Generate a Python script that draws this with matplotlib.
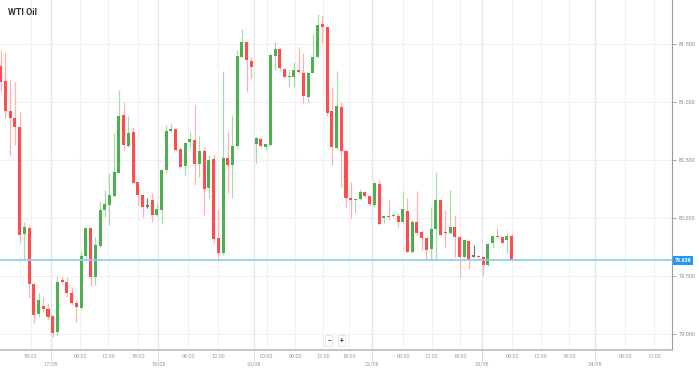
import matplotlib
matplotlib.use("Agg")
import matplotlib.pyplot as plt
import matplotlib.transforms as mtransforms
import numpy as np

# hourly WTI candles (oldest first)
opens = [81.310, 81.184, 80.925, 80.859, 80.787, 79.862, 79.911, 79.431, 79.170, 79.241,
         79.213, 79.155, 79.020, 79.466, 79.451, 79.356, 79.270, 79.222, 79.672, 79.911,
         79.489, 79.759, 80.069, 80.112, 80.192, 80.391, 80.885, 80.621, 80.744, 80.310,
         80.198, 80.097, 80.155, 80.023, 80.069, 80.414, 80.750, 80.765, 80.592, 80.448,
         80.655, 80.672, 80.463, 80.578, 80.256, 80.506, 79.830, 79.696, 80.515, 80.454,
         80.621, 81.391, 81.515, 81.356, 80.638, 80.684, 80.615, 80.629, 81.399, 81.454,
         81.282, 81.213, 81.213, 81.276, 81.253, 81.041, 81.253, 81.385, 81.670, 81.644,
         80.925, 80.601, 80.954, 80.580, 80.170, 80.155, 80.161, 80.222, 80.190, 80.112,
         80.291, 79.997, 80.020, 80.017, 80.017, 79.968, 80.063, 79.709, 79.963, 79.882,
         79.830, 79.730, 79.903, 80.155, 79.877, 79.868, 79.920, 79.839, 79.661, 79.804,
         79.666, 79.672, 79.666, 79.595, 79.782, 79.845, 79.834, 79.810, 79.845]
highs = [81.448, 81.434, 81.190, 81.175, 80.916, 79.968, 79.940, 79.431, 79.351, 79.322,
         79.270, 79.164, 79.500, 79.494, 79.494, 79.408, 79.293, 79.718, 79.925, 79.925,
         79.839, 80.149, 80.241, 80.385, 80.730, 81.103, 81.003, 80.879, 80.787, 80.310,
         80.207, 80.170, 80.213, 80.132, 80.420, 80.802, 80.815, 80.767, 80.601, 80.658,
         80.753, 80.974, 80.707, 80.615, 80.543, 80.552, 80.078, 81.270, 80.753, 80.888,
         81.448, 81.627, 81.520, 81.391, 80.701, 80.687, 80.640, 81.414, 81.520, 81.463,
         81.291, 81.276, 81.347, 81.477, 81.420, 81.261, 81.586, 81.759, 81.741, 81.649,
         81.127, 81.267, 81.003, 80.586, 80.313, 80.170, 80.247, 80.235, 80.198, 80.304,
         80.328, 80.026, 80.155, 80.054, 80.041, 80.235, 80.170, 79.983, 80.235, 79.897,
         79.834, 80.097, 80.399, 80.161, 80.069, 80.241, 80.026, 79.845, 79.816, 79.810,
         79.767, 79.681, 79.672, 79.787, 79.853, 79.925, 79.845, 79.868, 79.862]
lows = [81.086, 80.859, 80.534, 80.629, 79.782, 79.638, 79.308, 79.092, 79.149, 79.192,
        79.121, 78.977, 78.991, 79.430, 79.322, 79.247, 79.106, 79.213, 79.638, 79.414,
        79.422, 79.747, 80.011, 79.940, 80.184, 80.385, 80.586, 80.615, 80.299, 80.112,
        80.011, 80.084, 79.968, 80.017, 79.948, 80.385, 80.744, 80.580, 80.437, 80.371,
        80.601, 80.284, 80.356, 80.026, 80.170, 79.782, 79.632, 79.681, 80.213, 80.170,
        80.592, 81.385, 81.089, 81.204, 80.477, 80.609, 80.595, 80.621, 81.276, 81.270,
        81.204, 81.127, 81.132, 81.247, 80.994, 80.994, 81.247, 81.377, 81.506, 80.879,
        80.457, 80.592, 80.270, 80.092, 79.997, 80.041, 80.155, 80.178, 80.103, 80.097,
        79.940, 79.954, 79.983, 80.011, 79.925, 79.954, 79.696, 79.696, 79.853, 79.724,
        79.638, 79.638, 79.638, 79.845, 79.739, 79.859, 79.666, 79.489, 79.653, 79.558,
        79.661, 79.653, 79.509, 79.586, 79.739, 79.825, 79.782, 79.696, 79.632]
closes = [81.172, 80.925, 80.859, 80.787, 79.853, 79.920, 79.431, 79.164, 79.293, 79.218,
          79.144, 79.011, 79.451, 79.451, 79.351, 79.265, 79.230, 79.672, 79.911, 79.494,
          79.767, 80.069, 80.121, 80.198, 80.399, 80.879, 80.629, 80.735, 80.304, 80.196,
          80.092, 80.097, 80.026, 80.075, 80.414, 80.753, 80.770, 80.586, 80.442, 80.649,
          80.678, 80.466, 80.578, 80.250, 80.500, 79.816, 79.696, 80.515, 80.454, 80.621,
          81.397, 81.517, 81.362, 81.304, 80.692, 80.621, 80.635, 81.405, 81.457, 81.291,
          81.218, 81.227, 81.276, 81.259, 81.052, 81.247, 81.391, 81.664, 81.649, 80.908,
          80.609, 80.966, 80.580, 80.170, 80.155, 80.166, 80.227, 80.190, 80.118, 80.299,
          79.948, 80.017, 80.009, 80.028, 79.966, 80.075, 79.709, 79.968, 79.873, 79.825,
          79.724, 79.903, 80.155, 79.853, 79.868, 79.925, 79.834, 79.661, 79.810, 79.644,
          79.666, 79.661, 79.595, 79.776, 79.845, 79.834, 79.787, 79.845, 79.638]

last_price = 79.636
price_ticks = [79.0, 79.5, 80.0, 80.5, 81.0, 81.5]

time_labels = ["18:00", "06:00", "12:00", "18:00", "06:00", "12:00", "00:00", "06:00",
               "12:00", "18:00", "06:00", "12:00", "18:00", "06:00", "12:00", "18:00",
               "06:00", "12:00"]
time_pos = [6.34, 16.77, 22.75, 29.09, 39.66, 46.0, 56.24, 62.22, 68.2, 73.64,
            85.12, 91.12, 97.1, 108.16, 114.16, 120.21, 132.05, 138.18]
day_labels = ["17/08", "18/08", "20/08", "22/08", "23/08", "24/08"]
day_pos = [10.53, 33.36, 53.55, 78.5, 101.69, 125.64]

UP, DOWN, FLAT = "#4caf50", "#ff4d4d", "#777777"
UP_W, DOWN_W = "#a9dca9", "#ffb0b0"

plt.rcParams["font.family"] = ["Roboto", "DejaVu Sans"]
fig = plt.figure(figsize=(6.99, 3.69), dpi=100)
ax = fig.add_axes([0, 19 / 369, 672 / 699, 350 / 369])

# grid
for p in price_ticks:
    ax.axhline(p, color="#f1f1f1", lw=0.8, zorder=0)
for x in time_pos:
    ax.axvline(x, color="#f0f0f0", lw=0.8, zorder=0)
for x in day_pos:
    ax.axvline(x, color="#e6e6e6", lw=1.0, zorder=0)

# candles
o, h, l, c = map(np.array, (opens, highs, lows, closes))
xs = np.arange(len(o))
body_col = np.where(c > o, UP, np.where(c < o, DOWN, FLAT))
wick_col = np.where(c > o, UP_W, np.where(c < o, DOWN_W, FLAT))
ax.vlines(xs, l, h, colors=wick_col, lw=0.9, zorder=2)
heights = np.maximum(np.abs(c - o), 0.012)
ax.bar(xs, heights, bottom=np.minimum(o, c), width=0.64, color=body_col, zorder=3)

# last price line + label
ax.axhline(last_price, color="#8fcff5", lw=1.3, zorder=4)
blend = mtransforms.blended_transform_factory(ax.transAxes, ax.transData)
ax.text(1.004, last_price, f"{last_price:.3f}", transform=blend, fontsize=3.8,
        color="white", va="center", ha="left", fontweight="bold",
        bbox=dict(boxstyle="square,pad=0.35", fc="#2196f3", ec="none"))

ax.set_xlim(-0.148, 141.92)
ax.set_ylim(78.862, 81.879)

# axes styling
for s in ("top", "left"):
    ax.spines[s].set_visible(False)
ax.spines["right"].set_color("#9a9a9a")
ax.spines["bottom"].set_color("#bbbbbb")
ax.spines["bottom"].set_linewidth(1.2)
ax.yaxis.tick_right()
ax.set_yticks(price_ticks)
ax.set_yticklabels([f"{p:.3f}" for p in price_ticks])
ax.tick_params(axis="y", length=3, width=0.6, color="#9a9a9a", labelsize=4,
               labelcolor="#8a8a8a", pad=2)
ax.set_xticks(time_pos)
ax.set_xticklabels(time_labels)
ax.tick_params(axis="x", length=0, labelsize=4, labelcolor="#9a9a9a", pad=3)
bt = mtransforms.blended_transform_factory(ax.transData, ax.transAxes)
for x, lab in zip(day_pos, day_labels):
    ax.plot([x, x], [0, -0.03], transform=bt, ls=(0, (1, 1)), lw=0.6,
            color="#b0b0b0", clip_on=False)
    ax.text(x, -0.033, lab, transform=bt, fontsize=4, color="#9a9a9a",
            ha="center", va="top")

# zoom buttons
for px, sym in ((329, "\u2212"), (342, "+")):
    ax.text(px / 672, 9 / 350, sym, transform=ax.transAxes, fontsize=5,
            color="#444444", ha="center", va="center", fontweight="bold",
            bbox=dict(boxstyle="round,pad=0.25", fc="white", ec="#dddddd", lw=0.5))

fig.text(8 / 699, 1 - 12.5 / 369, "WTI Oil", fontsize=6.5, fontweight="bold",
         color="#333333", va="center", ha="left")

fig.savefig("out.png", dpi=100)
